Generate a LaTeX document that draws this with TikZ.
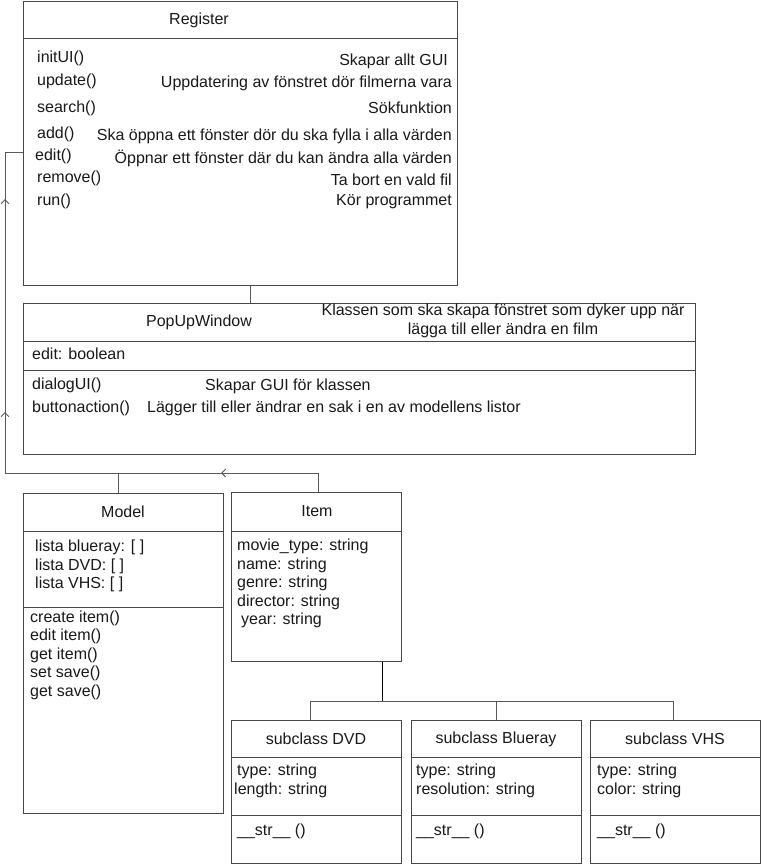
\documentclass[tikz,border=0pt]{standalone}
\usepackage{fontspec}
\setmainfont{Liberation Sans}
\usetikzlibrary{arrows.meta,decorations.markings}
\tikzset{
  box/.style={draw=black!72, line width=1pt, inner sep=0pt, anchor=north west, fill=white},
  divider/.style={draw=black!72, line width=1pt},
  conn/.style={draw=black!65, line width=1pt},
  lt/.style={inner sep=0pt, anchor=west},
  rt/.style={inner sep=0pt, anchor=east},
  ct/.style={inner sep=0pt, anchor=center},
  barb/.style={postaction={decorate}, decoration={markings,
    mark=at position 116pt with {\arrow{Straight Barb[length=4pt,width=8pt]}},
    mark=at position 393pt with {\arrow{Straight Barb[length=4pt,width=8pt]}},
    mark=at position 606pt with {\arrow{Straight Barb[length=4pt,width=8pt]}}}},
  every node/.append style={font=\fontsize{16}{18.5}\selectfont, text=black!90}
}
\begin{document}
\begin{tikzpicture}[x=1pt,y=-1pt]
\useasboundingbox (0,0) rectangle (761,864);
% ---------- boxes ----------
\node[box, minimum width=434pt, minimum height=284pt] (reg) at (23,1) {};
\node[box, minimum width=672pt, minimum height=151pt] (pop) at (23,303) {};
\node[box, minimum width=200pt, minimum height=320pt] (model) at (23,493) {};
\node[box, minimum width=170pt, minimum height=169pt] (item) at (231,492) {};
\node[box, minimum width=170pt, minimum height=143pt] (dvd) at (231,720) {};
\node[box, minimum width=170pt, minimum height=143pt] (blu) at (411,720) {};
\node[box, minimum width=170pt, minimum height=143pt] (vhs) at (590,720) {};
% ---------- dividers ----------
\draw[divider] ([yshift=-38pt]reg.north west) -- ([yshift=-38pt]reg.north east);
\draw[divider] ([yshift=-38pt]pop.north west) -- ([yshift=-38pt]pop.north east);
\draw[divider] ([yshift=-67pt]pop.north west) -- ([yshift=-67pt]pop.north east);
\draw[divider] ([yshift=-38pt]model.north west) -- ([yshift=-38pt]model.north east);
\draw[divider] ([yshift=-114pt]model.north west) -- ([yshift=-114pt]model.north east);
\draw[divider] ([yshift=-39pt]item.north west) -- ([yshift=-39pt]item.north east);
\foreach \b in {dvd,blu,vhs}{
  \draw[divider] ([yshift=-37pt]\b.north west) -- ([yshift=-37pt]\b.north east);
  \draw[divider] ([yshift=-95pt]\b.north west) -- ([yshift=-95pt]\b.north east);
}
% ---------- connectors ----------
\draw[conn] ([xshift=227pt]reg.south west) -- ([xshift=227pt]pop.north west);
\coordinate (bus) at (5,473);
\draw[conn, barb] ([xshift=87pt]item.north west) |- (bus) |- ([yshift=-151pt]reg.north west);
\draw[conn] ([xshift=95pt]model.north west) -- ++(0,-20);
\draw[draw=black, line width=1pt] ([xshift=151pt]item.south west) -- ++(0,40);
\draw[conn] ([xshift=79pt]dvd.north west) -- ++(0,-19) -| ([xshift=83pt]vhs.north west);
\draw[conn] ([xshift=85pt]blu.north west) -- ++(0,-19);
% ---------- Register ----------
\node[ct] (regt) at (199,20) {Register};
\node[lt] (m1) at (37,58) {initUI()};
\node[lt] (m2) at (37,81) {update()};
\node[lt] (m3) at (37,108) {search()};
\node[lt] (m4) at (37,134) {add()};
\node[lt] (m5) at (35,156) {edit()};
\node[lt] (m6) at (37,178) {remove()};
\node[lt] (m7) at (37,201) {run()};
\node[rt] (d1) at (448,61) {Skapar allt GUI};
\node[rt] (d2) at (452,83) {Uppdatering av fönstret dör filmerna vara};
\node[rt] (d3) at (452,108) {Sökfunktion};
\node[rt] (d4) at (452,136) {Ska öppna ett fönster dör du ska fylla i alla värden};
\node[rt] (d5) at (452,158) {Öppnar ett fönster där du kan ändra alla värden};
\node[rt] (d6) at (452,180) {Ta bort en vald fil};
\node[rt] (d7) at (452,202) {Kör programmet};
% ---------- PopUpWindow ----------
\node[ct] (popt) at (199,322) {PopUpWindow};
\node[ct, align=center] (popc) at (503,321) {Klassen som ska skapa fönstret som dyker upp när\\lägga till eller ändra en film};
\node[lt] (pa) at (32,354) {edit: boolean};
\node[lt] (pm1) at (32,385) {dialogUI()};
\node[lt] (pm2) at (32,408) {buttonaction()};
\node[lt] (pd1) at (205,386) {Skapar GUI för klassen};
\node[lt] (pd2) at (147,408) {Lägger till eller ändrar en sak i en av modellens listor};
% ---------- Model ----------
\node[ct] (modt) at (123,512) {Model};
\node[lt] (ma1) at (35,547) {lista blueray: [ ]};
\node[lt] (ma2) at (35,566) {lista DVD: [ ]};
\node[lt] (ma3) at (35,584) {lista VHS: [ ]};
\node[lt] (mm1) at (30,618) {create item()};
\node[lt] (mm2) at (30,636) {edit item()};
\node[lt] (mm3) at (30,655) {get item()};
\node[lt] (mm4) at (30,673) {set save()};
\node[lt] (mm5) at (30,692) {get save()};
% ---------- Item ----------
\node[ct] (itt) at (317,511) {Item};
\node[lt] (ia1) at (237,546) {movie\_type: string};
\node[lt] (ia2) at (237,565) {name: string};
\node[lt] (ia3) at (237,583) {genre: string};
\node[lt] (ia4) at (237,602) {director: string};
\node[lt] (ia5) at (241,620) {year: string};
% ---------- subclasses ----------
\node[ct] (dvdt) at (316,739) {subclass DVD};
\node[lt] (dvda1) at (237,771) {type: string};
\node[lt] (dvda2) at (234,790) {length: string};
\node[lt] (dvdm) at (237,831) {\_\_str\_\_ ()};
\node[ct] (blut) at (496,739) {subclass Blueray};
\node[lt] (blua1) at (416,771) {type: string};
\node[lt] (blua2) at (416,790) {resolution: string};
\node[lt] (blum) at (416,831) {\_\_str\_\_ ()};
\node[ct] (vhst) at (675,739) {subclass VHS};
\node[lt] (vhsa1) at (597,771) {type: string};
\node[lt] (vhsa2) at (597,790) {color: string};
\node[lt] (vhsm) at (597,831) {\_\_str\_\_ ()};
\end{tikzpicture}
\end{document}
